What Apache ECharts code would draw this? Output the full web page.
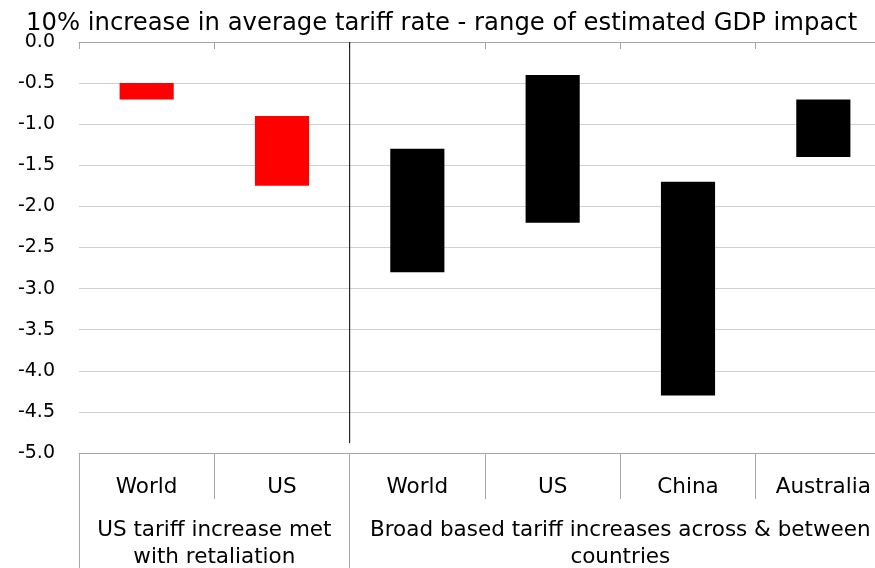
<!DOCTYPE html>
<html>
<head>
<meta charset="utf-8">
<script src="https://cdn.jsdelivr.net/npm/echarts@6/dist/echarts.min.js"></script>
<style>
html,body{margin:0;padding:0;background:#fff;overflow:hidden;width:875px;height:568px;}
#chart{width:891px;height:568px;}
</style>
</head>
<body>
<div id="chart"></div>
<script>
var titleText = '10% increase in average tariff rate - range of estimated GDP impact';
var categories = ['World', 'US', 'World', 'US', 'China', 'Australia'];
var groups = ['US tariff increase met\nwith retaliation', 'Broad based tariff increases across & between\ncountries'];
var groupSizes = [2, 4];
var groupColors = ['#ff0000', '#000000'];
var highs = [-0.5, -0.9, -1.3, -0.4, -1.7, -0.7];
var lows = [-0.7, -1.75, -2.8, -2.2, -4.3, -1.4];
var separatorEnd = -4.88;

var FONT = '"DejaVu Sans", sans-serif';

var catGroup = [];
groupSizes.forEach(function (n, g) { for (var i = 0; i < n; i++) catGroup.push(g); });
var total = groupSizes.reduce(function (a, b) { return a + b; }, 0);
var bounds = [0];
groupSizes.forEach(function (n) { bounds.push(bounds[bounds.length - 1] + n); });
var groupCenters = groupSizes.map(function (n, g) { return bounds[g] + n / 2; });

var baseData = highs.map(function (h) { return h; });
var rangeData = highs.map(function (h, i) {
  return {
    value: +(lows[i] - h).toFixed(4),
    itemStyle: { color: groupColors[catGroup[i]] }
  };
});

var chart = echarts.init(document.getElementById('chart'), null, { renderer: 'canvas' });
chart.setOption({
  animation: false,
  backgroundColor: '#ffffff',
  textStyle: { fontFamily: FONT },
  title: {
    text: titleText,
    left: 21,
    top: 7,
    textStyle: { fontFamily: FONT, fontSize: 24.3, fontWeight: 'normal', color: '#000' }
  },
  grid: { left: 79, top: 42, right: 0, height: 411, containLabel: false, outerBoundsMode: 'none' },
  xAxis: [
    {
      type: 'category',
      position: 'top',
      data: categories,
      boundaryGap: true,
      axisLine: { show: true, lineStyle: { color: '#a6a6a6', width: 1 } },
      axisTick: { show: true, inside: true, length: 7, interval: 0, lineStyle: { color: '#a6a6a6' } },
      axisLabel: { show: false },
      splitLine: { show: false }
    },
    {
      type: 'category',
      position: 'bottom',
      data: categories,
      boundaryGap: true,
      axisLine: { show: true, lineStyle: { color: '#a6a6a6', width: 1 } },
      axisTick: { show: true, length: 46, interval: 0, lineStyle: { color: '#a6a6a6' } },
      axisLabel: { show: true, interval: 0, margin: 23, fontFamily: FONT, fontSize: 21.5, color: '#000' },
      splitLine: { show: false }
    },
    {
      type: 'value',
      position: 'bottom',
      min: 0,
      max: total,
      axisLine: { show: false },
      axisTick: { show: true, length: 116, customValues: bounds, lineStyle: { color: '#a6a6a6' } },
      axisLabel: {
        show: true,
        customValues: groupCenters,
        margin: 64,
        fontFamily: FONT,
        fontSize: 21.5,
        lineHeight: 27,
        color: '#000',
        align: 'center',
        formatter: function (v) {
          for (var g = 0; g < groupCenters.length; g++) {
            if (Math.abs(groupCenters[g] - v) < 1e-6) return groups[g];
          }
          return '';
        }
      },
      splitLine: { show: false }
    }
  ],
  yAxis: {
    type: 'value',
    min: -5,
    max: 0,
    interval: 0.5,
    axisLine: { show: false },
    axisTick: { show: false },
    axisLabel: {
      margin: 24,
      fontFamily: FONT,
      fontSize: 19,
      color: '#000',
      formatter: function (v) { return v.toFixed(1); }
    },
    splitLine: { show: true, lineStyle: { color: '#d0d0d0', width: 1 } }
  },
  series: [
    {
      name: 'base',
      type: 'bar',
      xAxisIndex: 0,
      stack: 'range',
      barWidth: '40%',
      silent: true,
      itemStyle: { color: 'rgba(0,0,0,0)' },
      data: baseData
    },
    {
      name: 'range',
      type: 'bar',
      xAxisIndex: 0,
      stack: 'range',
      barWidth: '40%',
      data: rangeData
    },
    {
      name: 'separator',
      type: 'line',
      xAxisIndex: 2,
      yAxisIndex: 0,
      symbol: 'none',
      silent: true,
      lineStyle: { color: '#000', width: 1 },
      data: [[bounds[1], 0], [bounds[1], separatorEnd]]
    }
  ]
});
</script>
</body>
</html>
